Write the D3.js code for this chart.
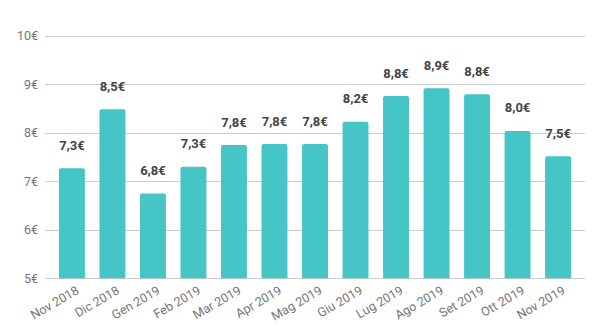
<!DOCTYPE html>
<html><head><meta charset="utf-8">
<script src="https://cdn.jsdelivr.net/npm/d3@7"></script>
<style>body{margin:0;background:#fff;} svg{display:block;font-family:Roboto, sans-serif;}</style>
</head><body>
<script>
const categories = ["Nov 2018","Dic 2018","Gen 2019","Feb 2019","Mar 2019","Apr 2019","Mag 2019","Giu 2019","Lug 2019","Ago 2019","Set 2019","Ott 2019","Nov 2019"];
const values = [7.27,8.49,6.75,7.30,7.75,7.77,7.77,8.23,8.76,8.92,8.80,8.04,7.52];
const labels = ["7,3€","8,5€","6,8€","7,3€","7,8€","7,8€","7,8€","8,2€","8,8€","8,9€","8,8€","8,0€","7,5€"];
const yTicks = [5,6,7,8,9,10];

const W=605,H=336;
const svg=d3.select("body").append("svg").attr("width",W).attr("height",H);
const x=d3.scaleBand().domain(categories).range([45,585]).paddingInner(0.36).paddingOuter(0.345);
const y=d3.scaleLinear().domain([5,10]).range([278.3,36]);

svg.append("g").selectAll("line").data(yTicks).join("line")
  .attr("x1",45).attr("x2",585).attr("y1",d=>Math.round(y(d))+0.5).attr("y2",d=>Math.round(y(d))+0.5)
  .attr("stroke","#cccccc").attr("stroke-width",1);
svg.append("g").selectAll("text").data(yTicks).join("text")
  .attr("x",38).attr("y",d=>y(d)).attr("dy","0.35em").attr("text-anchor","end")
  .attr("fill","#757575").attr("font-size",12.5).text(d=>d+"€");

const r=2;
svg.append("g").selectAll("path").data(values).join("path")
  .attr("fill","#45c5c6")
  .attr("d",(d,i)=>{const x0=x(categories[i]),w=x.bandwidth(),t=y(d),b=y(5);
    return `M${x0},${b}V${t+r}Q${x0},${t} ${x0+r},${t}H${x0+w-r}Q${x0+w},${t} ${x0+w},${t+r}V${b}Z`;});

svg.append("g").selectAll("text").data(values).join("text")
  .attr("x",(d,i)=>x(categories[i])+x.bandwidth()/2).attr("y",d=>y(d)-18.5)
  .attr("text-anchor","middle").attr("font-weight","bold").attr("font-size",13).attr("fill","#444")
  .text((d,i)=>labels[i]);

svg.append("g").selectAll("text").data(categories).join("text")
  .attr("transform",d=>`translate(${x(d)+x.bandwidth()/2+8},${293}) rotate(-30)`)
  .attr("text-anchor","end").attr("fill","#757575").attr("font-size",12.5).text(d=>d);
</script>
</body></html>
